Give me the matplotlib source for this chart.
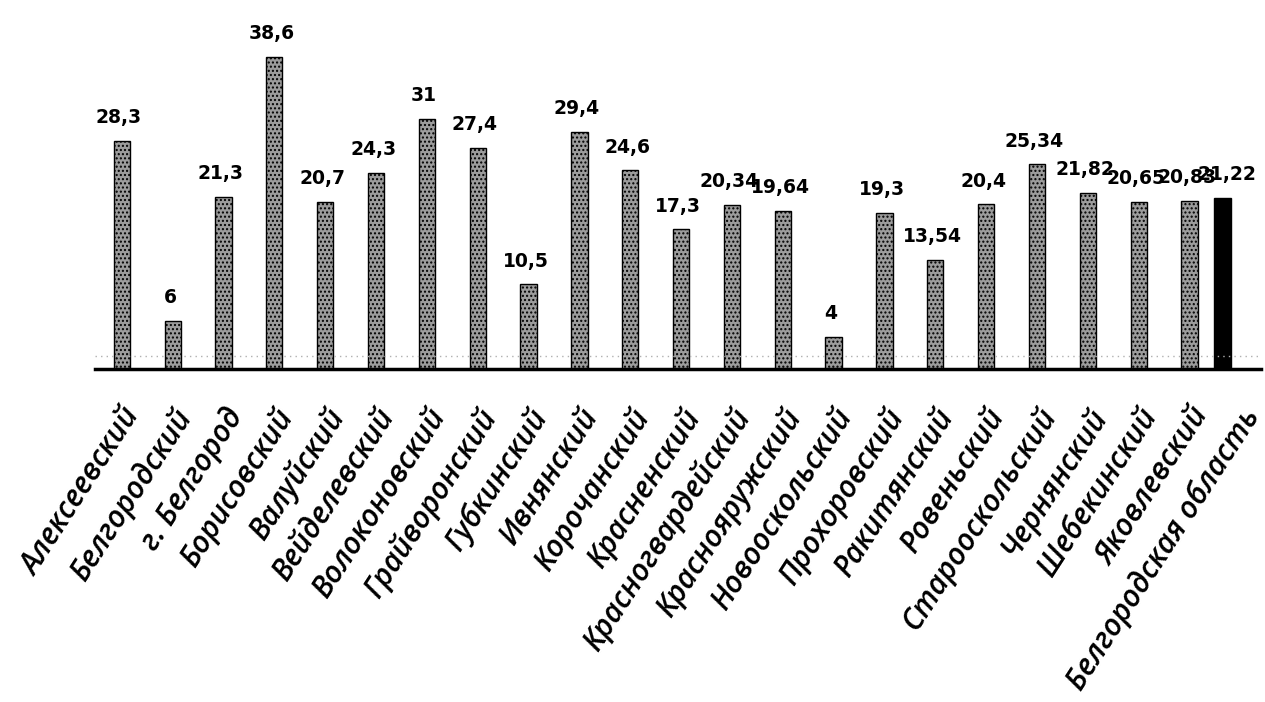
import numpy as np
import matplotlib.pyplot as plt
from matplotlib.transforms import ScaledTranslation

districts = ['Алексеевский', 'Белгородский', 'г. Белгород', 'Борисовский',
             'Валуйский', 'Вейделевский', 'Волоконовский', 'Грайворонский',
             'Губкинский', 'Ивнянский', 'Корочанский', 'Красненский',
             'Красногвардейский', 'Краснояружский', 'Новооскольский',
             'Прохоровский', 'Ракитянский', 'Ровеньский', 'Старооскольский',
             'Чернянский', 'Шебекинский', 'Яковлевский']
values = [28.3, 6, 21.3, 38.6, 20.7, 24.3, 31, 27.4, 10.5, 29.4, 24.6, 17.3,
          20.34, 19.64, 4, 19.3, 13.54, 20.4, 25.34, 21.82, 20.65, 20.83]
region_name = 'Белгородская область'
region_value = 21.22

labels = districts + [region_name]


def fmt(v):
    s = f'{v:.2f}'.rstrip('0').rstrip('.')
    return s.replace('.', ',')


fig = plt.figure(figsize=(12.65, 7.02), dpi=100)
ax = fig.add_axes([0.075, 0.474, 0.922, 0.518])

x = np.arange(len(districts))
bw = 0.32
bars = ax.bar(x, values, width=bw, color='#9c9c9c', edgecolor='black',
              linewidth=1.0, hatch='....')
# the oblast total sits a bit left of its category slot
x_reg = len(districts) - 0.35
bar_reg = ax.bar([x_reg], [region_value], width=bw, color='black',
                 edgecolor='black', linewidth=1.0)

val_font = ['DejaVu Sans Condensed', 'DejaVu Sans']
for xi, v in zip(x, values):
    ax.annotate(fmt(v), (xi, v), xytext=(-2, 10), textcoords='offset points',
                ha='center', va='bottom', fontsize=13.5, fontweight='bold',
                family=val_font)
ax.annotate(fmt(region_value), (x_reg, region_value), xytext=(3, 10),
            textcoords='offset points', ha='center', va='bottom',
            fontsize=13.5, fontweight='bold', family=val_font)

ax.axhline(1.7, color='#b0b0b0', linestyle=(0, (1, 3)), linewidth=1.0)

ax.set_xlim(-0.53, len(districts) + 0.41)
ax.set_ylim(0, 45)
ax.set_xticks(np.arange(len(labels)))
ax.set_xticklabels(labels, rotation=57, ha='right', va='top',
                   rotation_mode='anchor', fontsize=21.5, fontstyle='italic',
                   fontweight='semibold', family=['Open Sans', 'DejaVu Sans'])
shift = ScaledTranslation(-5 / 72, 0, fig.dpi_scale_trans)
for lbl in ax.get_xticklabels():
    lbl.set_transform(lbl.get_transform() + shift)
ax.tick_params(axis='x', length=0, pad=24)
ax.set_yticks([])
for side in ['top', 'right', 'left']:
    ax.spines[side].set_visible(False)
ax.spines['bottom'].set_linewidth(2.5)

fig.savefig('out.png', dpi=100)
